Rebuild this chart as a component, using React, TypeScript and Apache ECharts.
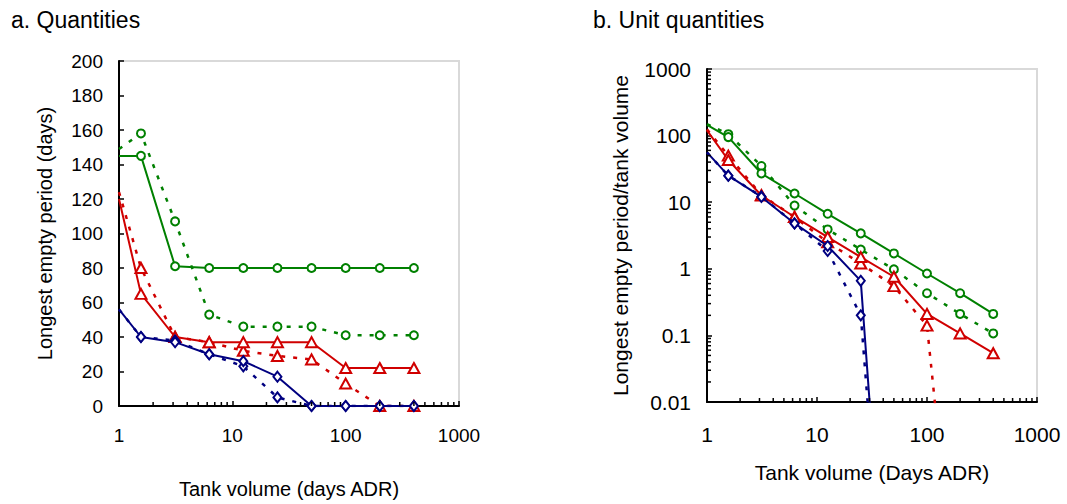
import React, { useEffect, useRef } from 'react';
import * as echarts from 'echarts';

// Tank volume (days ADR)
const tankVolume = [1, 1.5625, 3.125, 6.25, 12.5, 25, 50, 100, 200, 400];

// a. Quantities (days)
const qGreenSolid = [145, 145, 81, 80, 80, 80, 80, 80, 80, 80];
const qGreenDashed = [149, 158, 107, 53, 46, 46, 46, 41, 41, 41];
const qRedSolid = [120, 65, 40, 37, 37, 37, 37, 22, 22, 22];
const qRedDashed = [124, 80, 40, 37, 32, 29, 27, 13, 0, 0];
const qBlueSolid = [56, 40, 37, 30, 26, 17, 0, 0, 0, 0];
const qBlueDashed = [56, 40, 38, 30, 23, 5, 0, 0, 0, 0];

// b. Unit quantities (longest empty period / tank volume); ~0 values plunge off the log axis
const uGreenSolid = [145, 95, 27, 13.5, 6.7, 3.4, 1.7, 0.85, 0.43, 0.21];
const uGreenDashed = [149, 105, 35, 8.9, 3.9, 1.95, 0.98, 0.43, 0.21, 0.107];
const uRedSolid = [120, 43, 12.6, 6.0, 3.0, 1.5, 0.76, 0.21, 0.107, 0.054];
const uRedDashed = [124, 50, 12.8, 6.0, 2.5, 1.2, 0.55, 0.14, 0.000002, null];
const uBlueSolid = [56, 25, 12, 4.8, 2.2, 0.66, 0.0000001, null, null, null];
const uBlueDashed = [56, 25, 12.2, 4.8, 1.85, 0.2, 0.0000001, null, null, null];

// minor log tick positions
const xMinorTicks = [2, 3, 4, 5, 6, 7, 8, 9, 20, 30, 40, 50, 60, 70, 80, 90, 200, 300, 400, 500, 600, 700, 800, 900];
const yMinorTicks = [
  0.02, 0.03, 0.04, 0.05, 0.06, 0.07, 0.08, 0.09,
  0.2, 0.3, 0.4, 0.5, 0.6, 0.7, 0.8, 0.9,
  2, 3, 4, 5, 6, 7, 8, 9,
  20, 30, 40, 50, 60, 70, 80, 90,
  200, 300, 400, 500, 600, 700, 800, 900,
];

const GREEN = '#008000';
const RED = '#d00000';
const BLUE = '#000080';
const FONT = '"Liberation Sans", Arial, sans-serif';

function lineSeries(vals: (number | null)[], color: string, symbol: string, size: any, dashed: boolean, idx: number, z: number) {
  const data: any[] = [];
  tankVolume.forEach((x, i) => {
    const v = vals[i];
    if (v === null || v === undefined) return;
    data.push(i === 0 ? { value: [x, v], symbol: 'none' } : [x, v]);
  });
  return {
    type: 'line',
    xAxisIndex: idx,
    yAxisIndex: idx,
    data,
    symbol,
    symbolSize: size,
    showAllSymbol: true,
    clip: true,
    z,
    lineStyle: { color, width: dashed ? 2.5 : 2, type: dashed ? [4, 8] : 'solid' },
    itemStyle: { color: '#fff', borderColor: color, borderWidth: 2 },
  };
}

function tickSeries(idx: number, data: number[][], dir: 'x' | 'y') {
  return {
    type: 'custom',
    xAxisIndex: idx,
    yAxisIndex: idx,
    silent: true,
    clip: false,
    z: 10,
    data,
    renderItem: (_p: any, api: any) => {
      const pt = api.coord([api.value(0), api.value(1)]);
      const shape = dir === 'x'
        ? { x1: pt[0], y1: pt[1], x2: pt[0], y2: pt[1] - 4 }
        : { x1: pt[0], y1: pt[1], x2: pt[0] + 4, y2: pt[1] };
      return { type: 'line', shape, style: { stroke: '#000', lineWidth: 1.5 } };
    },
  };
}

const fmt = (v: number) => String(+Number(v).toPrecision(6));

export default function App() {
  const ref = useRef<HTMLDivElement>(null);
  useEffect(() => {
    if (!ref.current) return;
    const chart = echarts.init(ref.current, null, { renderer: 'svg' });
    const axisLine = { show: true, onZero: false, lineStyle: { color: '#000', width: 2 } };
    const axisTick = { show: true, inside: true, length: 5, lineStyle: { color: '#000', width: 1.5 } };
    chart.setOption({
      animation: false,
      backgroundColor: '#fff',
      textStyle: { fontFamily: FONT },
      title: [
        { text: 'a. Quantities', left: 6, top: 3, textStyle: { fontSize: 23, fontWeight: 'normal', color: '#000', fontFamily: FONT } },
        { text: 'b. Unit quantities', left: 588, top: 3, textStyle: { fontSize: 23, fontWeight: 'normal', color: '#000', fontFamily: FONT } },
      ],
      grid: [
        { left: 119, top: 61, width: 340, height: 346, show: true, borderColor: '#d9d9d9', borderWidth: 2, backgroundColor: 'transparent' },
        { left: 707, top: 69, width: 330, height: 333, show: true, borderColor: '#d9d9d9', borderWidth: 2, backgroundColor: 'transparent' },
      ],
      xAxis: [
        {
          type: 'log', logBase: 10, min: 1, max: 1000, gridIndex: 0,
          name: 'Tank volume (days ADR)', nameLocation: 'middle', nameGap: 73,
          nameTextStyle: { fontSize: 20, color: '#000', fontFamily: FONT },
          axisLine, axisTick, splitLine: { show: false },
          axisLabel: { fontSize: 19, color: '#000', margin: 20, formatter: fmt, fontFamily: FONT },
        },
        {
          type: 'log', logBase: 10, min: 1, max: 1000, gridIndex: 1,
          name: 'Tank volume (Days ADR)', nameLocation: 'middle', nameGap: 60,
          nameTextStyle: { fontSize: 21, color: '#000', fontFamily: FONT },
          axisLine, axisTick, splitLine: { show: false },
          axisLabel: { fontSize: 21, color: '#000', margin: 22, formatter: fmt, fontFamily: FONT },
        },
      ],
      yAxis: [
        {
          type: 'value', min: 0, max: 200, interval: 20, gridIndex: 0,
          name: 'Longest empty period (days)', nameLocation: 'middle', nameGap: 64,
          nameTextStyle: { fontSize: 20, color: '#000', fontFamily: FONT },
          axisLine, axisTick, splitLine: { show: false },
          axisLabel: { fontSize: 19, color: '#000', margin: 16, fontFamily: FONT },
        },
        {
          type: 'log', logBase: 10, min: 0.01, max: 1000, gridIndex: 1,
          name: 'Longest empty period/tank volume', nameLocation: 'middle', nameGap: 76,
          nameTextStyle: { fontSize: 21, color: '#000', fontFamily: FONT },
          axisLine, axisTick, splitLine: { show: false },
          axisLabel: { fontSize: 21, color: '#000', margin: 16, formatter: fmt, fontFamily: FONT },
        },
      ],
      series: [
        tickSeries(0, xMinorTicks.map((v) => [v, 0]), 'x'),
        tickSeries(1, xMinorTicks.map((v) => [v, 0.01]), 'x'),
        tickSeries(1, yMinorTicks.map((v) => [1, v]), 'y'),
        lineSeries(qGreenDashed, GREEN, 'circle', 8, true, 0, 2),
        lineSeries(qGreenSolid, GREEN, 'circle', 8, false, 0, 2),
        lineSeries(qRedDashed, RED, 'triangle', [11, 10], true, 0, 3),
        lineSeries(qRedSolid, RED, 'triangle', [11, 10], false, 0, 3),
        lineSeries(qBlueDashed, BLUE, 'diamond', [8, 10], true, 0, 4),
        lineSeries(qBlueSolid, BLUE, 'diamond', [8, 10], false, 0, 4),
        lineSeries(uGreenDashed, GREEN, 'circle', 8, true, 1, 2),
        lineSeries(uGreenSolid, GREEN, 'circle', 8, false, 1, 2),
        lineSeries(uRedDashed, RED, 'triangle', [11, 10], true, 1, 3),
        lineSeries(uRedSolid, RED, 'triangle', [11, 10], false, 1, 3),
        lineSeries(uBlueDashed, BLUE, 'diamond', [8, 10], true, 1, 4),
        lineSeries(uBlueSolid, BLUE, 'diamond', [8, 10], false, 1, 4),
      ],
    });
    return () => chart.dispose();
  }, []);
  return <div ref={ref} style={{ position: 'absolute', left: 0, top: 0, width: 1067, height: 504 }} />;
}
